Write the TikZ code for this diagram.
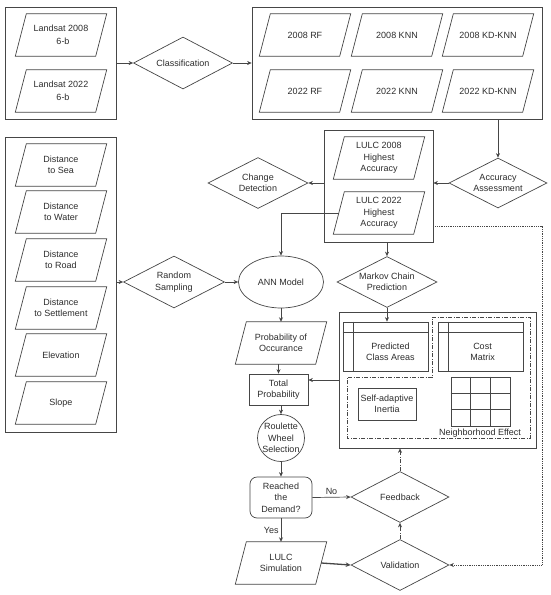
\documentclass[tikz,border=0pt]{standalone}
\usepackage{fontspec}
\setmainfont{Liberation Sans}
\usetikzlibrary{shapes.geometric,arrows.meta,calc}
\definecolor{ln}{RGB}{70,70,70}
\definecolor{tx}{RGB}{45,45,45}
\tikzset{
  base/.style={font=\fontsize{9}{11.5}\selectfont, text=tx, align=center},
  box/.style={base, draw=ln, line width=0.7pt, rectangle, inner sep=0pt},
  pbody/.style={base, draw=none, rectangle, inner sep=0pt, minimum width=80, minimum height=42},
  dia/.style={base, diamond, draw=ln, line width=0.7pt, aspect=1.9, inner sep=0pt},
  ln/.style={draw=ln, line width=0.7pt},
  arr/.style={ln, -{Stealth[length=4.5pt,width=4pt]}},
  thickarr/.style={draw=ln, line width=1.3pt, -{Stealth[length=5pt,width=4.5pt]}},
  dotarr/.style={draw=ln, line width=0.8pt, densely dotted, -{Stealth[length=4.5pt,width=4pt]}},
  dasharr/.style={ln, dash pattern=on 4pt off 1.5pt on 1pt off 1.5pt, -{Stealth[length=4.5pt,width=4pt]}},
  dashln/.style={ln, dash pattern=on 4pt off 1.5pt on 1pt off 1.5pt},
  lbl/.style={base, inner sep=2pt}
}
\newcommand{\paranode}[3]{%
  \node[pbody] (#1) at (#2) {#3};
  \draw[ln] ([xshift=5.5pt]#1.north west) -- ([xshift=5.5pt]#1.north east)
    -- ([xshift=-5.5pt]#1.south east) -- ([xshift=-5.5pt]#1.south west) -- cycle;
}
\begin{document}
\begin{tikzpicture}[x=1pt,y=-1pt]
\useasboundingbox (0,0) rectangle (550,595);
\fill[white] (0,0) rectangle (550,595);

% top-left input box
\node[box, minimum width=111, minimum height=112] (tlbox) at (60.5,63) {};
\paranode{ls08}{61,35}{Landsat 2008\\[2pt]\hspace*{4pt}6-b}
\paranode{ls22}{61,91}{Landsat 2022\\[2pt]\hspace*{4pt}6-b}

\node[dia, minimum width=99, minimum height=52] (class) at (183,63) {Classification};

% classifiers box
\node[box, minimum width=290, minimum height=112] (trbox) at (397,63) {};
\paranode{rf08}{305,35}{2008 RF}
\paranode{knn08}{397,35}{2008 KNN}
\paranode{kd08}{488,35}{2008 KD-KNN}
\paranode{rf22}{305,91}{2022 RF}
\paranode{knn22}{397,91}{2022 KNN}
\paranode{kd22}{488,91}{2022 KD-KNN}

\node[dia, minimum width=98, minimum height=50] (acc) at (498,183) {Accuracy\\Assessment};

% LULC box
\node[box, minimum width=109, minimum height=112] (midbox) at (378.5,186) {};
\paranode{lulc08}{379,158}{LULC 2008\\Highest\\Accuracy}
\paranode{lulc22}{379,213}{LULC 2022\\Highest\\Accuracy}

\node[dia, minimum width=100, minimum height=51] (change) at (258,183) {Change\\Detection};

% drivers box
\node[box, minimum width=111, minimum height=295] (leftbox) at (60.5,284.5) {};
\paranode{dsea}{61,165}{Distance\\to Sea}
\paranode{dwater}{61,212}{Distance\\to Water}
\paranode{droad}{61,260}{Distance\\to Road}
\paranode{dsett}{61,308}{Distance\\to Settlement}
\paranode{elev}{61,355}{Elevation}
\paranode{slope}{61,403}{Slope}

\node[dia, minimum width=101, minimum height=52] (random) at (174,282) {Random\\Sampling};
\node[base, ellipse, draw=ln, line width=0.7pt, inner sep=0pt, minimum width=85, minimum height=52] (ann) at (281,282) {ANN Model};
\node[dia, minimum width=100, minimum height=51] (markov) at (387,282) {Markov Chain\\Prediction};

\paranode{prob}{281,343}{Probability of\\Occurance}
\node[box, minimum width=59, minimum height=31] (total) at (278.5,389.5) {Total\\Probability};
\node[base, circle, draw=ln, line width=0.7pt, inner sep=-1pt, minimum size=47] (roul) at (281,438) {Roulette\\Wheel\\Selection};
\node[box, rounded corners=7pt, minimum width=62, minimum height=41] (reached) at (281,497.5) {Reached\\the\\Demand?};
\paranode{lulcsim}{281,563}{LULC\\Simulation}

\node[dia, minimum width=98, minimum height=51] (feedback) at (400,497) {Feedback};
\node[dia, minimum width=98, minimum height=51] (valid) at (400,565) {Validation};

% CA block
\node[box, minimum width=197, minimum height=136] (bigbox) at (437.5,380) {};
\node[box, minimum width=85, minimum height=49] (pca) at (385.5,346.5) {};
\draw[ln] ([xshift=11pt]pca.north west) -- ([xshift=11pt]pca.south west);
\draw[ln] ([yshift=-11pt]pca.north west) -- ([yshift=-11pt]pca.north east);
\node[base] (pcatext) at ([xshift=5pt,yshift=-5.5pt]pca.center) {Predicted\\Class Areas};
\node[box, minimum width=85, minimum height=49] (cm) at (480.5,346.5) {};
\draw[ln] ([xshift=11pt]cm.north west) -- ([xshift=11pt]cm.south west);
\draw[ln] ([yshift=-11pt]cm.north west) -- ([yshift=-11pt]cm.north east);
\node[base] (cmtext) at ([xshift=2pt,yshift=-5.5pt]cm.center) {Cost\\Matrix};
\draw[dashln] (432,317) -- (530,317) -- (530,438) -- (347,438) -- (347,377) -- (432,377) -- cycle;
\node[box, minimum width=58, minimum height=32] (sai) at (387,404) {Self-adaptive\\Inertia};
\node[box, minimum width=59, minimum height=49] (grid) at (480.5,401.5) {};
\draw[ln] ($(grid.north west)!1/3!(grid.north east)$) -- ($(grid.south west)!1/3!(grid.south east)$);
\draw[ln] ($(grid.north west)!2/3!(grid.north east)$) -- ($(grid.south west)!2/3!(grid.south east)$);
\draw[ln] ($(grid.north west)!1/3!(grid.south west)$) -- ($(grid.north east)!1/3!(grid.south east)$);
\draw[ln] ($(grid.north west)!2/3!(grid.south west)$) -- ($(grid.north east)!2/3!(grid.south east)$);
\node[base] (ne) at (480,433) {Neighborhood Effect};

% connectors
\draw[arr] (tlbox.east) -- (class.west);
\draw[arr] (class.east) -- (trbox.west);
\draw[arr] (trbox.south -| acc) -- (acc.north);
\draw[arr] (acc.west) -- (midbox.east |- acc);
\draw[arr] (midbox.west |- change) -- (change.east);
\draw[arr] (lulc22.west) -| (ann.north);
\draw[arr] (midbox.south -| markov) -- (markov.north);
\draw[arr] (leftbox.east |- random) -- (random.west);
\draw[arr] (random.east) -- (ann.west);
\draw[arr] (ann.south) -- (prob.north);
\draw[arr] (prob.south -| total) -- (total.north);
\draw[arr] (total.south -| roul) -- (roul.north);
\draw[arr] (roul.south) -- (reached.north);
\draw[arr] (reached.east) -- node[lbl, above] (nolbl) {No} (feedback.west);
\draw[arr] (reached.south) -- node[lbl, left] (yeslbl) {Yes} (lulcsim.north);
\draw[arr] (markov.south) -- (markov.south |- pca.north);
\draw[arr] (bigbox.west) -- (total.east |- bigbox.west);
\draw[dasharr] (feedback.north) -- (feedback.north |- bigbox.south);
\draw[dasharr] (valid.north) -- (feedback.south);
\draw[thickarr] (lulcsim.east) -- (valid.west);
\coordinate (dc) at (542,226);
\draw[dotarr] ([yshift=-40pt]midbox.east) -- (dc) |- (valid.east);
\end{tikzpicture}
\end{document}
